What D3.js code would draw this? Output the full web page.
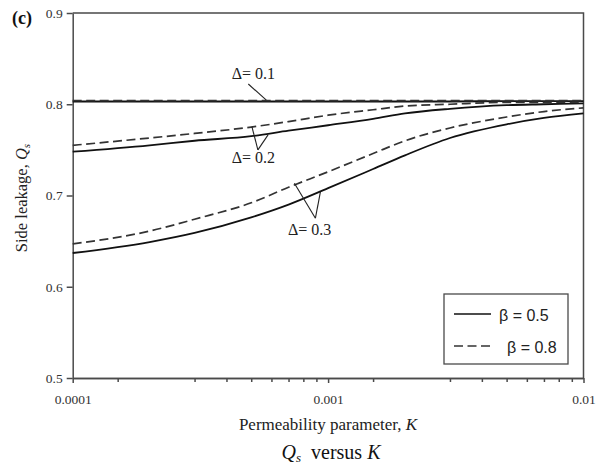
<!DOCTYPE html>
<html>
<head>
<meta charset="utf-8">
<script src="https://cdn.jsdelivr.net/npm/d3@7"></script>
<style>
  body { margin: 0; background: #fff; }
  svg { display: block; font-family: "Liberation Serif", "DejaVu Serif", serif; }
</style>
</head>
<body>
<svg width="601" height="467"></svg>
<script>
var svg = d3.select("svg");

// permeability parameter K (x) and side leakage Qs for each delta / beta
var kValues = [1e-4, 2e-4, 3e-4, 5e-4, 7e-4, 1e-3, 1.5e-3, 2e-3, 3e-3, 5e-3, 7e-3, 1e-2];
var d01b05 = [0.803, 0.803, 0.803, 0.803, 0.803, 0.803, 0.803, 0.803, 0.803, 0.8035, 0.8035, 0.8035];
var d01b08 = [0.804, 0.804, 0.804, 0.804, 0.804, 0.804, 0.804, 0.804, 0.804, 0.804, 0.804, 0.804];
var d02b05 = [0.748, 0.755, 0.760, 0.765, 0.771, 0.777, 0.784, 0.790, 0.795, 0.799, 0.800, 0.801];
var d02b08 = [0.755, 0.763, 0.768, 0.775, 0.781, 0.788, 0.794, 0.798, 0.800, 0.802, 0.802, 0.802];
var d03b05 = [0.637, 0.649, 0.659, 0.676, 0.690, 0.708, 0.729, 0.744, 0.763, 0.778, 0.785, 0.790];
var d03b08 = [0.647, 0.661, 0.674, 0.692, 0.709, 0.726, 0.746, 0.760, 0.774, 0.786, 0.792, 0.796];

var yTicks = [0.5, 0.6, 0.7, 0.8, 0.9];
var xMajor = [1e-4, 1e-3, 1e-2];
var xMinor = [1.5e-4, 3e-4, 4e-4, 5e-4, 6e-4, 7e-4, 8e-4, 9e-4,
              1.5e-3, 3e-3, 4e-3, 5e-3, 6e-3, 7e-3, 8e-3, 9e-3];

var series = [
  {beta: 0.5, dash: null, values: d01b05},
  {beta: 0.8, dash: "9,4.5", values: d01b08},
  {beta: 0.5, dash: null, values: d02b05},
  {beta: 0.8, dash: "9,4.5", values: d02b08},
  {beta: 0.5, dash: null, values: d03b05},
  {beta: 0.8, dash: "9,4.5", values: d03b08}
];

// delta labels with leader lines (positions in data space)
var labels = [
  {text: "0.1", k: 5.1e-4, q: 0.828, legs: [[[4.87e-4, 0.8222], [5.73e-4, 0.8045]]]},
  {text: "0.2", k: 5.1e-4, q: 0.7357, legs: [[[5.31e-4, 0.750], [5.03e-4, 0.7755]], [[5.31e-4, 0.750], [5.82e-4, 0.7665]]]},
  {text: "0.3", k: 8.46e-4, q: 0.6568, legs: [[[8.92e-4, 0.6751], [7.38e-4, 0.7135]], [[8.92e-4, 0.6751], [9.33e-4, 0.7040]]]}
];

var mLeft = 72.7, mRight = 583.5, mTop = 13, mBottom = 378;

var x = d3.scaleLog().domain([1e-4, 1e-2]).range([mLeft, mRight]);
var y = d3.scaleLinear().domain([0.5, 0.9]).range([mBottom, mTop]);

function styleAxis(g) {
  g.selectAll("path, line").attr("stroke", "#4a4a4a").attr("stroke-width", 1.5);
  g.selectAll("text")
    .attr("font-family", "'Liberation Serif', serif")
    .attr("font-size", "13.5px")
    .attr("fill", "#333");
}

// frame (top and right)
svg.append("path")
  .attr("d", "M" + mLeft + "," + mTop + "H" + mRight + "V" + mBottom)
  .attr("fill", "none")
  .attr("stroke", "#4a4a4a")
  .attr("stroke-width", 1.5);

// y axis
svg.append("g")
  .attr("transform", "translate(" + mLeft + ",0)")
  .call(d3.axisLeft(y).tickValues(yTicks).tickFormat(d3.format(".1f")).tickSize(6).tickSizeOuter(0).tickPadding(4))
  .call(styleAxis);

// x axis: minor ticks then labelled majors
svg.append("g")
  .attr("transform", "translate(0," + mBottom + ")")
  .call(d3.axisBottom(x).tickValues(xMinor).tickFormat("").tickSize(4).tickSizeOuter(0))
  .call(styleAxis);

svg.append("g")
  .attr("transform", "translate(0," + mBottom + ")")
  .call(d3.axisBottom(x).tickValues(xMajor).tickFormat(function(d) { return d3.format("")(d); }).tickSize(5).tickSizeOuter(0).tickPadding(11))
  .call(styleAxis);

// curves
var line = d3.line()
  .x(function(d, i) { return x(kValues[i]); })
  .y(function(d) { return y(d); })
  .curve(d3.curveMonotoneX);

svg.selectAll(".curve")
  .data(series)
  .enter()
  .append("path")
  .attr("class", "curve")
  .attr("d", function(d) { return line(d.values); })
  .attr("fill", "none")
  .attr("stroke", function(d) { return d.dash ? "#333" : "#111"; })
  .attr("stroke-width", function(d) { return d.dash ? 1.7 : 1.8; })
  .attr("stroke-dasharray", function(d) { return d.dash; });

// delta annotations
labels.forEach(function(l) {
  l.legs.forEach(function(leg) {
    svg.append("line")
      .attr("x1", x(leg[0][0])).attr("y1", y(leg[0][1]))
      .attr("x2", x(leg[1][0])).attr("y2", y(leg[1][1]))
      .attr("stroke", "#222")
      .attr("stroke-width", 1.1);
  });
  svg.append("text")
    .attr("x", x(l.k))
    .attr("y", y(l.q))
    .attr("text-anchor", "middle")
    .attr("font-family", "'Liberation Serif', serif")
    .attr("font-size", "16px")
    .attr("fill", "#222")
    .text("\u0394= " + l.text);
});

// legend
var legend = svg.append("g");
legend.append("rect")
  .attr("x", 444).attr("y", 294).attr("width", 124).attr("height", 70)
  .attr("fill", "#fff").attr("stroke", "#4a4a4a").attr("stroke-width", 1.3);

var legendItems = [{beta: 0.5, dash: null}, {beta: 0.8, dash: "9,4.5"}];
legendItems.forEach(function(it, i) {
  var ly = 314 + i * 32;
  legend.append("line")
    .attr("x1", 454).attr("x2", 491 + (it.dash ? 2 : 0))
    .attr("y1", ly).attr("y2", ly)
    .attr("stroke", it.dash ? "#333" : "#111")
    .attr("stroke-width", 1.7)
    .attr("stroke-dasharray", it.dash);
  legend.append("text")
    .attr("x", i === 0 ? 499 : 507)
    .attr("y", ly + 7)
    .attr("font-family", "'Liberation Sans', Arial, sans-serif")
    .attr("font-size", "16px")
    .attr("fill", "#222")
    .text("\u03b2 = " + it.beta);
});

// axis titles
var yTitle = svg.append("text")
  .attr("transform", "translate(27,198) rotate(-90)")
  .attr("text-anchor", "middle")
  .attr("font-family", "'Liberation Serif', serif")
  .attr("font-size", "16.5px")
  .attr("fill", "#222");
yTitle.append("tspan").text("Side leakage, ");
yTitle.append("tspan").attr("font-style", "italic").text("Q");
yTitle.append("tspan").attr("font-style", "italic").attr("font-size", "11px").attr("dy", 3).text("s");

var xTitle = svg.append("text")
  .attr("x", 328)
  .attr("y", 430)
  .attr("text-anchor", "middle")
  .attr("font-family", "'Liberation Serif', serif")
  .attr("font-size", "17px")
  .attr("fill", "#222");
xTitle.append("tspan").text("Permeability parameter, ");
xTitle.append("tspan").attr("font-style", "italic").text("K");

// caption
var caption = svg.append("text")
  .attr("x", 331)
  .attr("y", 459)
  .attr("text-anchor", "middle")
  .attr("font-family", "'Liberation Serif', serif")
  .attr("font-size", "20px")
  .attr("fill", "#111");
caption.append("tspan").attr("font-style", "italic").text("Q");
caption.append("tspan").attr("font-style", "italic").attr("font-size", "13px").attr("dy", 3).text("s");
caption.append("tspan").attr("dy", -3).text("\u00a0 versus ");
caption.append("tspan").attr("font-style", "italic").text("K");

// panel tag
svg.append("text")
  .attr("x", 12)
  .attr("y", 24)
  .attr("font-family", "'Liberation Serif', serif")
  .attr("font-size", "18px")
  .attr("font-weight", "bold")
  .attr("fill", "#111")
  .text("(c)");
</script>
</body>
</html>
